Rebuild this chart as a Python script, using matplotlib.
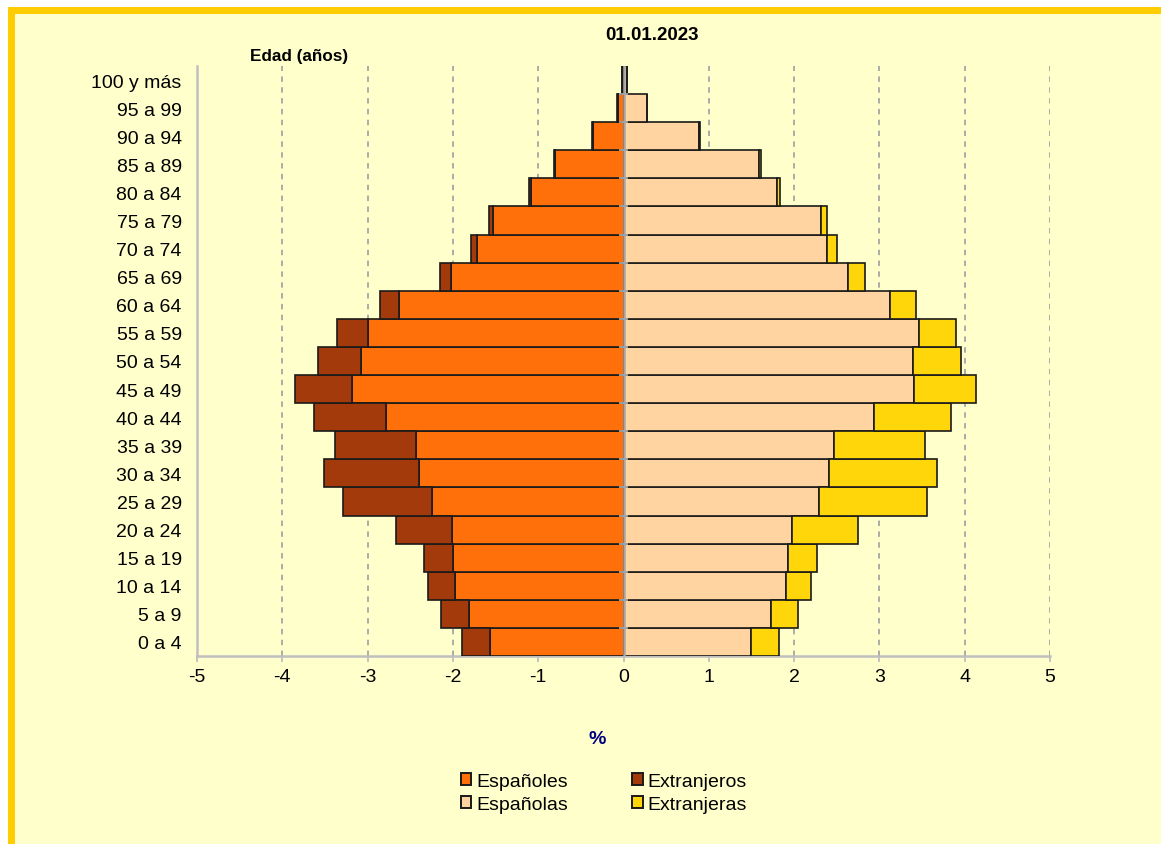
import matplotlib
matplotlib.use('Agg')
import matplotlib.pyplot as plt
from matplotlib.patches import Rectangle, Patch
import numpy as np

plt.rcParams['font.family'] = ['Liberation Sans', 'DejaVu Sans']

edades = ['0 a 4', '5 a 9', '10 a 14', '15 a 19', '20 a 24', '25 a 29', '30 a 34',
          '35 a 39', '40 a 44', '45 a 49', '50 a 54', '55 a 59', '60 a 64', '65 a 69',
          '70 a 74', '75 a 79', '80 a 84', '85 a 89', '90 a 94', '95 a 99', '100 y más']
espanoles = [1.56, 1.81, 1.97, 2.00, 2.01, 2.24, 2.40, 2.43, 2.78, 3.18, 3.08, 3.00,
             2.63, 2.02, 1.72, 1.53, 1.09, 0.80, 0.36, 0.07, 0.02]
extranjeros = [0.33, 0.33, 0.32, 0.34, 0.66, 1.05, 1.11, 0.95, 0.85, 0.67, 0.50, 0.36,
               0.22, 0.13, 0.07, 0.05, 0.02, 0.01, 0.005, 0.003, 0.001]
espanolas = [1.50, 1.73, 1.90, 1.93, 1.98, 2.29, 2.41, 2.47, 2.94, 3.41, 3.39, 3.46,
             3.13, 2.63, 2.38, 2.31, 1.80, 1.59, 0.89, 0.27, 0.04]
extranjeras = [0.32, 0.32, 0.30, 0.34, 0.77, 1.27, 1.27, 1.07, 0.90, 0.72, 0.57, 0.44,
               0.30, 0.20, 0.12, 0.07, 0.03, 0.02, 0.01, 0.005, 0.001]
xticks = [-5, -4, -3, -2, -1, 0, 1, 2, 3, 4, 5]

c_esp_h = '#FF700A'
c_ext_h = '#A33A0C'
c_esp_m = '#FFD4A0'
c_ext_m = '#FFD60A'
edge = '#1a1a1a'
grid_c = '#A6A6A6'

W, H = 1161, 845
fig = plt.figure(figsize=(W / 100, H / 100), dpi=100)
fig.patch.set_facecolor('white')

# chart area frame
frame = Rectangle((10.5 / W, -0.1), 1.2, (H - 10.5) / H + 0.1, transform=fig.transFigure,
                  facecolor='#FFFFCC', edgecolor='#FFCC00', linewidth=5.0, zorder=-5)
fig.patches.append(frame)

ax = fig.add_axes([197 / W, 1 - 657 / H, (1050 - 197) / W, (657 - 67) / H])
ax.set_facecolor('none')
ax.set_zorder(2)

y = np.arange(len(edades))
esp_h = -np.array(espanoles)
ext_h = -np.array(extranjeros)
esp_m = np.array(espanolas)
ext_m = np.array(extranjeras)

kw = dict(height=1.0, edgecolor=edge, linewidth=1.2, zorder=3)
ax.barh(y, esp_h, color=c_esp_h, **kw)
ax.barh(y, ext_h, left=esp_h, color=c_ext_h, **kw)
ax.barh(y, esp_m, color=c_esp_m, **kw)
ax.barh(y, ext_m, left=esp_m, color=c_ext_m, **kw)

ax.set_xlim(-5, 5)
ax.set_ylim(-0.5, len(edades) - 0.5)

for xv in xticks[1:]:
    if xv != 0:
        ax.axvline(xv, color=grid_c, linewidth=1.3, linestyle=(0, (3, 3)), zorder=1)
ax.axvline(0, color=grid_c, linewidth=1.8, zorder=4)
ax.hlines(y[:-1] + 0.5, -0.05, 0.05, color=grid_c, linewidth=1.3, zorder=4)

for s in ['top', 'right']:
    ax.spines[s].set_visible(False)
for s in ['left', 'bottom']:
    ax.spines[s].set_color('#BFBFBF')
    ax.spines[s].set_linewidth(1.8)

ax.set_yticks(y)
ax.set_yticklabels(edades, fontsize=14)
ax.tick_params(axis='y', length=0, pad=11)
ax.set_xticks(xticks)
ax.set_xticklabels([str(v) for v in xticks], fontsize=14)
ax.tick_params(axis='x', length=4, color='#BFBFBF', width=1.3, pad=5)

fig.text(652 / W, 1 - 35 / H, '01.01.2023', fontsize=13.5, fontweight='bold',
         ha='center', va='center')
fig.text(299 / W, 1 - 57 / H, 'Edad (años)', fontsize=12.3, fontweight='bold',
         ha='center', va='center')
fig.text(597 / W, 1 - 740 / H, '%', fontsize=14, fontweight='bold', color='#000080',
         ha='center', va='center')

handles = [Patch(facecolor=c_esp_h, edgecolor=edge, linewidth=1.4, label='Españoles'),
           Patch(facecolor=c_esp_m, edgecolor=edge, linewidth=1.4, label='Españolas'),
           Patch(facecolor=c_ext_h, edgecolor=edge, linewidth=1.4, label='Extranjeros'),
           Patch(facecolor=c_ext_m, edgecolor=edge, linewidth=1.4, label='Extranjeras')]
fig.legend(handles=handles, ncol=2, loc='center', bbox_to_anchor=(604 / W, 1 - 794 / H),
           frameon=False, fontsize=14, handlelength=0.55, handleheight=0.55,
           handletextpad=0.25, columnspacing=3.3, labelspacing=0.3, borderaxespad=0)

fig.savefig('out.png', dpi=100, facecolor=fig.get_facecolor())
